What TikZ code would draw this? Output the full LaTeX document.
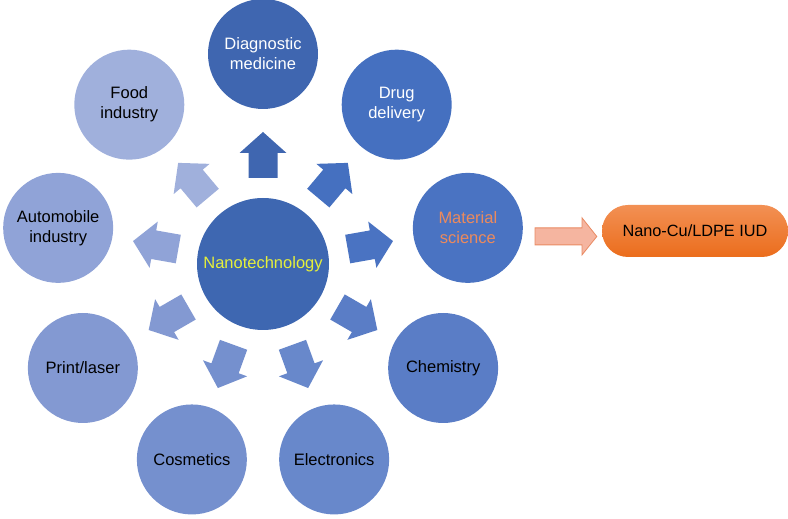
\documentclass[tikz,border=0pt]{standalone}
\usepackage{fontspec}
\setmainfont{Liberation Sans}
\usetikzlibrary{calc}
\definecolor{cCenter}{HTML}{3E67B1}
\definecolor{cA}{HTML}{3F66B0}
\definecolor{cB}{HTML}{4570C0}
\definecolor{cC}{HTML}{4A73C2}
\definecolor{cD}{HTML}{5A7DC6}
\definecolor{cE}{HTML}{6888CB}
\definecolor{cF}{HTML}{7590CE}
\definecolor{cG}{HTML}{8399D2}
\definecolor{cH}{HTML}{90A3D7}
\definecolor{cI}{HTML}{A0B0DC}
\definecolor{nanoYellow}{HTML}{E6F03A}
\definecolor{matOrange}{HTML}{EC8A5C}
\definecolor{boxTop}{HTML}{F29054}
\definecolor{boxBot}{HTML}{EB6D1C}
\definecolor{arrFill}{HTML}{F5B5A0}
\definecolor{arrLine}{HTML}{E98A62}
\tikzset{
  x=1pt, y=1pt,
  bubble/.style={circle, minimum size=110pt, inner sep=0pt, align=center,
    font=\fontsize{16.5}{20}\selectfont, text=black},
  hub/.style={circle, minimum size=132pt, inner sep=0pt, align=center,
    font=\fontsize{16.5}{20}\selectfont, fill=cCenter, text=nanoYellow},
  iudbox/.style={rectangle, rounded corners=26pt, minimum width=186pt,
    minimum height=52pt, inner sep=0pt, top color=boxTop, bottom color=boxBot,
    font=\fontsize{16.3}{19}\selectfont, text=black}
}
\begin{document}
\begin{tikzpicture}
\useasboundingbox (0,0) rectangle (788,519);
\coordinate (C) at (263,255);
\node[hub] (nano) at (C) {Nanotechnology};
% outer circles
\node[bubble, fill=cA, text=white] (diag) at ($(C)+(90:210)$) {Diagnostic\\medicine};
\node[bubble, fill=cB, text=white] (drug) at ($(C)+(50:208)$) {Drug\\delivery};
\node[bubble, fill=cC, text=matOrange] (mat) at ($(C)+(10:208)$) {Material\\science};
\node[bubble, fill=cD] (chem) at ($(C)+(-30:208)$) {Chemistry};
\node[bubble, fill=cE] (elec) at ($(C)+(-70:208)$) {Electronics};
\node[bubble, fill=cF] (cosm) at ($(C)+(-110:208)$) {Cosmetics};
\node[bubble, fill=cG] (print) at ($(C)+(-150:208)$) {Print/laser};
\node[bubble, fill=cH] (auto) at ($(C)+(170:208)$) {Automobile\\industry};
\node[bubble, fill=cI] (food) at ($(C)+(130:208)$) {Food\\industry};
% block arrows
\foreach \a/\c in {90/cA,50/cB,10/cC,-30/cD,-70/cE,-110/cF,-150/cG,170/cH,130/cI}{
  \begin{scope}[shift={(C)}, rotate=\a]
    \fill[\c] (86,-14.5) -- (111,-14.5) -- (111,-23.5) -- (132,0) -- (111,23.5)
      -- (111,14.5) -- (86,14.5) -- cycle;
  \end{scope}
}
% IUD box and arrow
\node[iudbox] (iud) at (695,288) {Nano-Cu/LDPE IUD};
\draw[fill=arrFill, draw=arrLine, line width=0.8pt]
  ($(mat.east)+(12,0)$) -- ($(mat.east)+(59,0)$) -- ($(mat.east)+(59,10)$)
  -- ($(iud.west)+(-5,-5.5)$)
  -- ($(mat.east)+(59,-27)$) -- ($(mat.east)+(59,-17)$) -- ($(mat.east)+(12,-17)$) -- cycle;
\end{tikzpicture}
\end{document}
